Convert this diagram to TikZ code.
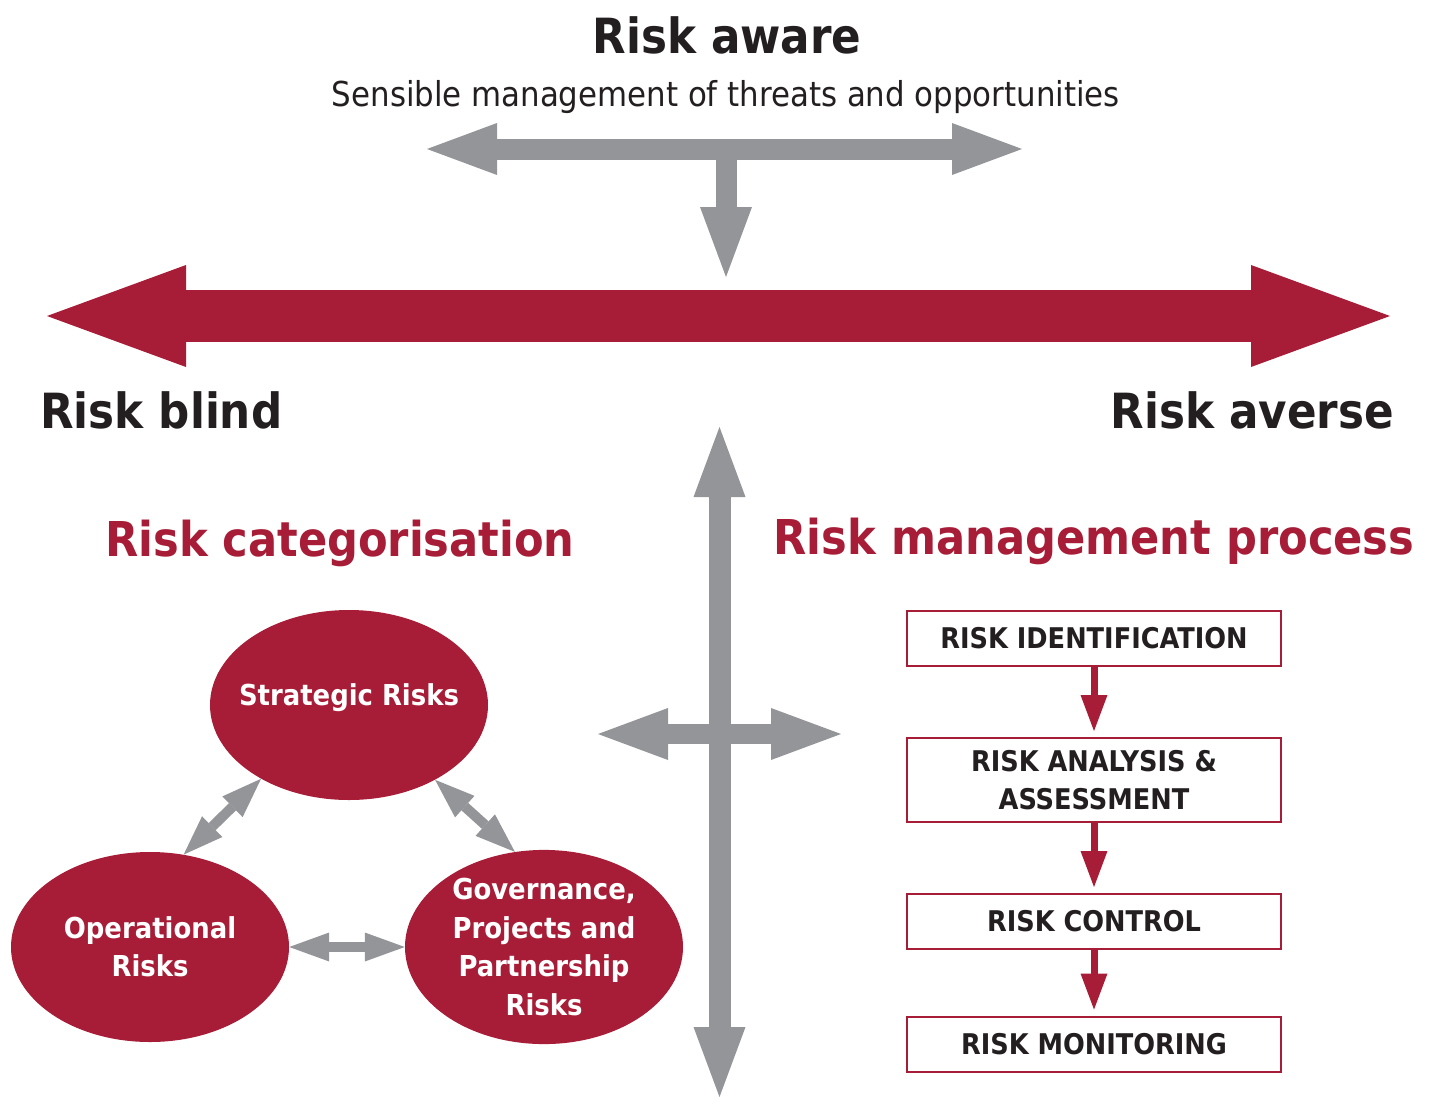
\documentclass[tikz,border=0pt]{standalone}
\usepackage{fontspec}
\setmainfont{DejaVu Sans Condensed}
\usetikzlibrary{arrows.meta, shapes.geometric, positioning}

\definecolor{riskred}{RGB}{167,28,54}
\definecolor{riskgray}{RGB}{147,149,152}
\definecolor{riskink}{RGB}{35,31,32}

\newcommand{\fsz}[1]{\fontsize{#1}{1.36\dimexpr#1pt\relax}\selectfont}

\tikzset{
  headline/.style={text=riskink, font=\fsz{48.5}\bfseries, inner sep=0pt},
  sectionhead/.style={text=riskred, font=\fsz{48}\bfseries, inner sep=0pt},
  catellipse/.style={ellipse, fill=riskred, minimum width=278pt, minimum height=190pt,
    inner sep=0pt, text=white, align=center, font=\fontsize{28.8}{38.5}\selectfont\bfseries},
  stepbox/.style={draw=riskred, line width=2pt, minimum width=374pt, minimum height=55pt,
    inner sep=0pt, text=riskink, align=center, font=\fontsize{28.5}{38}\selectfont\bfseries},
  graybar/.style={draw=riskgray, line width=21pt,
    >={Triangle[length=70pt, width=52pt, line width=0pt]}},
  redbar/.style={draw=riskred, line width=52pt,
    >={Triangle[length=139pt, width=102pt, line width=0pt]}},
  linkarrow/.style={draw=riskgray, line width=10pt, <->,
    >={Triangle[length=40pt, width=29pt, line width=0pt]}},
  steparrow/.style={draw=riskred, line width=7pt, ->, shorten >=6pt,
    >={Triangle[length=36pt, width=27pt, line width=0pt]}}
}

\begin{document}
\begin{tikzpicture}[x=1pt, y=-1pt]
  \useasboundingbox (0,0) rectangle (1434,1097);

  % titles
  \node[headline] (aware) at (727,35) {Risk aware};
  \node[text=riskink, font=\fsz{34.3}, inner sep=0pt] (sensible) at (726,97)
    {Sensible management of threats and opportunities};
  \node[headline, anchor=west] (blind) at (40,410) {Risk blind};
  \node[headline, anchor=east] (averse) at (1394,410) {Risk averse};

  % top arrows
  \coordinate (topleft) at (427,149);
  \coordinate (topright) at (1022,149);
  \coordinate (topmid) at (726,149);
  \coordinate (toptip) at (726,277);
  \draw[graybar, <->] (topleft) -- (topright);
  \draw[graybar, ->] (topmid) -- (toptip);

  % red scale
  \coordinate (blindtip) at (47,316);
  \coordinate (aversetip) at (1390,316);
  \draw[redbar, <->] (blindtip) -- (aversetip);

  % cross
  \coordinate (crosstop) at (719.5,427);
  \coordinate (crossbottom) at (719.5,1097);
  \coordinate (crossleft) at (598,734);
  \coordinate (crossright) at (841,734);
  \draw[graybar, <->, line width=22pt] (crosstop) -- (crossbottom);
  \draw[graybar, <->, line width=20pt] (crossleft) -- (crossright);

  % risk categorisation
  \node[sectionhead] (cathead) at (340,543) {Risk categorisation};
  \node[catellipse, inner xsep=-40pt] (strat) at (349,705) {\raisebox{0pt}[0pt][0pt]{Strategic Risks}};
  \node[catellipse] (oper) at (150,947) {Operational\\Risks};
  \node[catellipse] (gov) at (544,947) {Governance,\\Projects and\\Partnership\\Risks};

  \draw[linkarrow] (strat.220) -- (oper.70);
  \draw[linkarrow] (strat.319) -- (gov.107);
  \draw[linkarrow] (oper.east) -- (gov.west);

  % risk management process
  \node[sectionhead] (prochead) at (1094,541) {Risk management process};
  \node[stepbox] (ident) at (1094,638.5) {RISK IDENTIFICATION};
  \node[stepbox, minimum height=84pt] (analysis) at (1094,780) {RISK ANALYSIS \&\\ASSESSMENT};
  \node[stepbox] (control) at (1094,921.5) {RISK CONTROL};
  \node[stepbox] (monitor) at (1094,1044) {RISK MONITORING};

  \draw[steparrow] (ident) -- (analysis);
  \draw[steparrow] (analysis) -- (control);
  \draw[steparrow] (control) -- (monitor);
\end{tikzpicture}
\end{document}
